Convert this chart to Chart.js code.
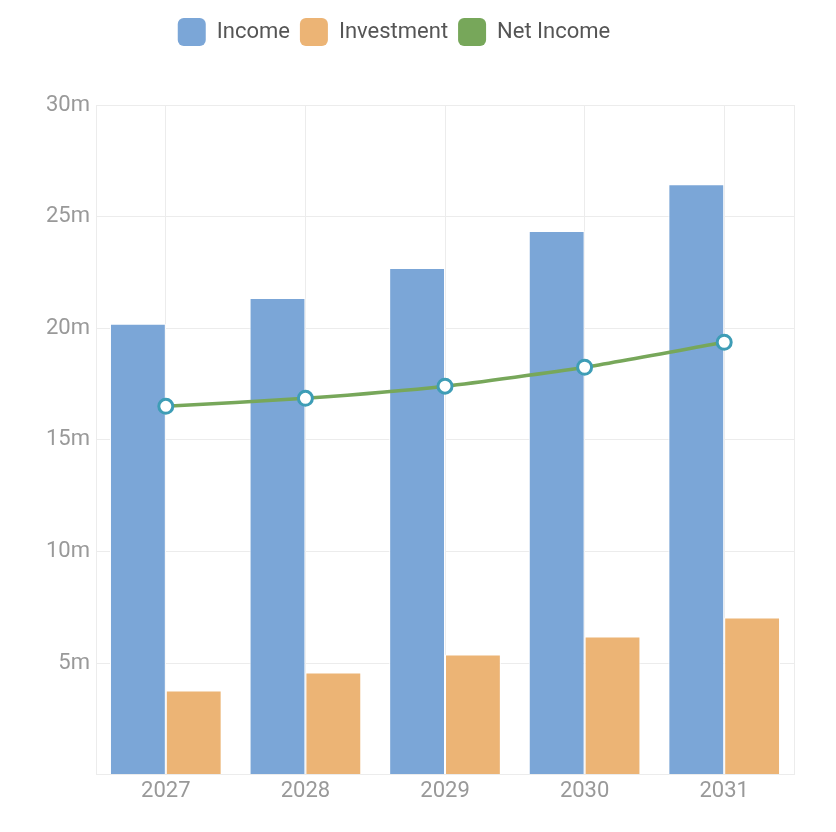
<!DOCTYPE html>
<html>
	<head>
		<meta charset="UTF-8">
		<title>Income chart</title>
		<script src="https://cdn.jsdelivr.net/npm/chart.js"></script>
		<style>
			*{margin:0; padding:0;}
			body{background:#fff;}
			#wrap{width:836px; height:832px;}
		</style>
	</head>
	<body>
		<div id="wrap">
			<canvas id="myChart"></canvas>
		</div>
		<script>
			// data (millions)
			const years = ['2027', '2028', '2029', '2030', '2031'];
			const income = [20.2, 21.35, 22.7, 24.35, 26.45];
			const investment = [3.77, 4.57, 5.38, 6.19, 7.04];
			const netIncome = [16.5, 16.86, 17.4, 18.25, 19.37];
			const yTicks = [0, 5, 10, 15, 20, 25, 30];

			const gridColor = '#ececec';

			// push the plot area down below the legend, and nudge the legend left
			const legendGap = {
				id: 'legendGap',
				beforeInit(chart) {
					const fit = chart.legend.fit;
					chart.legend.fit = function() {
						fit.bind(chart.legend)();
						this.height += 49;
					};
				},
				afterLayout(chart) {
					chart.legend.left -= 27;
					chart.legend.right -= 27;
				}
			};

			new Chart(document.getElementById('myChart'), {
				type: 'bar',
				data: {
					labels: years,
					datasets: [
						{
							type: 'line',
							label: 'Net Income',
							data: netIncome,
							borderColor: '#77a75a',
							backgroundColor: '#77a75a',
							borderWidth: 3.5,
							tension: 0.2,
							pointRadius: 7,
							pointBorderWidth: 3,
							pointBackgroundColor: '#ffffff',
							pointBorderColor: '#3e9db6',
							order: 0
						},
						{
							label: 'Income',
							data: income,
							backgroundColor: '#7ba6d7',
							borderColor: '#ffffff',
							borderWidth: 1,
							order: 1
						},
						{
							label: 'Investment',
							data: investment,
							backgroundColor: '#ecb475',
							borderColor: '#ffffff',
							borderWidth: 1,
							order: 1
						}
					]
				},
				options: {
					responsive: true,
					maintainAspectRatio: false,
					animation: false,
					layout: {padding: {top: 8, left: 40, right: 34, bottom: 23}},
					datasets: {bar: {categoryPercentage: 0.8, barPercentage: 1.0}},
					plugins: {
						legend: {
							position: 'top',
							labels: {
								sort: (a, b) => (a.text === 'Net Income') - (b.text === 'Net Income'),
								boxWidth: 28,
								boxHeight: 28,
								useBorderRadius: true,
								borderRadius: 6,
								padding: 10,
								color: '#555',
								font: {family: 'Roboto', size: 22},
								generateLabels(chart) {
									const items = Chart.defaults.plugins.legend.labels.generateLabels(chart);
									items.forEach(it => {
										const ds = chart.data.datasets[it.datasetIndex];
										it.fillStyle = ds.type === 'line' ? ds.borderColor : ds.backgroundColor;
										it.strokeStyle = it.fillStyle;
										it.lineWidth = 0;
									});
									return items;
								}
							}
						},
						tooltip: {enabled: false}
					},
					scales: {
						x: {
							grid: {color: gridColor, offset: false, drawTicks: false},
							border: {color: gridColor},
							ticks: {color: '#999', font: {family: 'Roboto', size: 22}, padding: 4}
						},
						y: {
							min: yTicks[0],
							max: yTicks[yTicks.length - 1],
							afterBuildTicks: axis => { axis.ticks = yTicks.map(v => ({value: v})); },
							grid: {color: gridColor, drawTicks: false},
							border: {color: gridColor},
							ticks: {
								color: '#999',
								font: {family: 'Roboto', size: 22},
								padding: 6,
								callback: v => v === 0 ? '' : v + 'm'
							}
						},
						yRight: {
							position: 'right',
							min: 0,
							max: 30,
							grid: {display: false},
							border: {color: gridColor},
							ticks: {display: false}
						}
					}
				},
				plugins: [legendGap]
			});
		</script>
	</body>
</html>
